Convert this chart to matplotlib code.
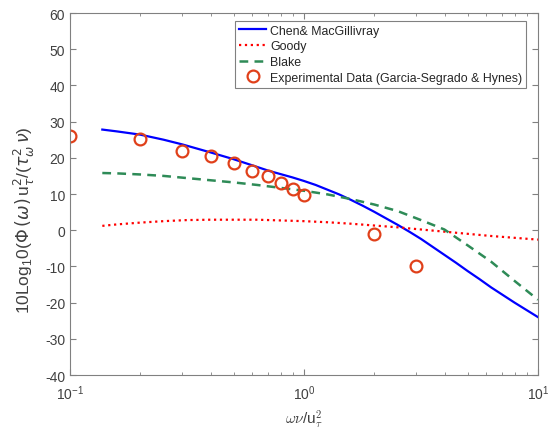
import matplotlib
matplotlib.use('Agg')
import matplotlib.pyplot as plt
import numpy as np

plt.rcParams['font.family'] = ['Liberation Sans', 'DejaVu Sans']
plt.rcParams['mathtext.fontset'] = 'cm'
plt.rcParams['axes.unicode_minus'] = False

# curves (log10 of x, dB)
chen_logx = [-0.862, -0.8, -0.7, -0.6, -0.52, -0.4, -0.3, -0.22, -0.15, -0.1, -0.05, 0.0,
             0.05, 0.1, 0.15, 0.2, 0.25, 0.3, 0.35, 0.4, 0.45, 0.5, 0.55, 0.6, 0.65,
             0.7, 0.75, 0.8, 0.85, 0.9, 0.95, 1.0]
chen_y = [27.8, 27.3, 26.4, 25.0, 23.7, 21.5, 19.6, 17.9, 16.4, 15.5, 14.6, 13.6,
          12.5, 11.2, 9.9, 8.4, 6.8, 5.1, 3.3, 1.5, -0.4, -2.4, -4.6, -6.8, -9.0,
          -11.3, -13.5, -15.8, -17.9, -20.0, -22.0, -24.0]

goody_logx = [-0.862, -0.8, -0.7, -0.6, -0.5, -0.4, -0.3, -0.2, -0.1, 0.0,
              0.1, 0.2, 0.3, 0.4, 0.5, 0.6, 0.7, 0.8, 0.9, 1.0]
goody_y = [1.2, 1.6, 2.1, 2.5, 2.8, 2.9, 2.9, 2.9, 2.7, 2.5,
           2.2, 1.8, 1.3, 0.8, 0.2, -0.4, -1.0, -1.6, -2.1, -2.6]

blake_logx = [-0.862, -0.8, -0.7, -0.6, -0.5, -0.4, -0.3, -0.2, -0.1, 0.0,
              0.1, 0.2, 0.3, 0.4, 0.5, 0.6, 0.7, 0.8, 0.9, 1.0]
blake_y = [15.8, 15.7, 15.4, 15.0, 14.4, 13.8, 13.2, 12.5, 11.7, 10.9,
           9.9, 8.6, 7.1, 5.3, 2.8, 0.2, -4.2, -8.7, -14.0, -19.2]

# experimental data (Garcia-Segrado & Hynes)
exp_x = [0.1, 0.2, 0.3, 0.4, 0.5, 0.6, 0.7, 0.8, 0.9, 1.0, 2.0, 3.0]
exp_y = [25.9, 25.3, 22.0, 20.5, 18.6, 16.4, 15.0, 13.0, 11.4, 9.8, -1.1, -10.0]

xtick_vals = [0.1, 1, 10]
xtick_labels = [r'$\mathregular{10^{-1}}$', r'$\mathregular{10^{0}}$', r'$\mathregular{10^{1}}$']

fig = plt.figure(figsize=(5.54, 4.35), dpi=100)
ax = fig.add_axes([0.1264, 0.1356, 0.8446, 0.8322])

ax.plot(10 ** np.array(chen_logx), chen_y, color='b', lw=1.6, label='Chen& MacGillivray')
ax.plot(10 ** np.array(goody_logx), goody_y, color='r', ls=':', lw=1.6, label='Goody')
ax.plot(10 ** np.array(blake_logx), blake_y, color='#2e8b57', ls=(0, (3.5, 2.5)), lw=1.8,
        label='Blake')
ax.plot(exp_x, exp_y, ls='none', marker='o', ms=8.5, mfc='none', mec='#e0401a', mew=1.6,
        label='Experimental Data (Garcia-Segrado & Hynes)')

ax.set_xscale('log')
ax.set_xlim(0.1, 10)
ax.set_ylim(-40, 60)
ax.set_yticks(np.arange(-40, 61, 10))
ax.set_xticks(xtick_vals)
ax.set_xticklabels(xtick_labels)

gray = '#404040'
for s in ax.spines.values():
    s.set_color('#808080')
    s.set_linewidth(0.8)
ax.tick_params(which='both', direction='in', top=True, right=True, colors='#808080',
               labelcolor=gray, labelsize=10)
ax.tick_params(which='major', length=4)
ax.tick_params(which='minor', length=2)
ax.tick_params(axis='x', pad=6)

ax.set_xlabel(r'$\omega\nu$/u$_\tau^2$', fontsize=11, color=gray, labelpad=4)
ax.set_ylabel(r'10Log$_\mathregular{1}$0($\Phi\,(\omega)\,$u$_\tau^2$/($\tau_\omega^2\,\nu$)',
              fontsize=12.5, color=gray)
ax.yaxis.label.set_math_fontfamily('dejavusans')
ax.yaxis.set_label_coords(-0.07, 0.43)

leg = ax.legend(loc='upper right', bbox_to_anchor=(0.974, 0.978), fontsize=8.9, fancybox=False,
                framealpha=1, edgecolor='#808080', handlelength=2.2, handletextpad=0.3,
                borderpad=0.3, labelspacing=0.3, borderaxespad=0)
leg.get_frame().set_linewidth(0.8)
for t in leg.get_texts():
    t.set_color('#262626')

fig.savefig('out.png', dpi=100)
